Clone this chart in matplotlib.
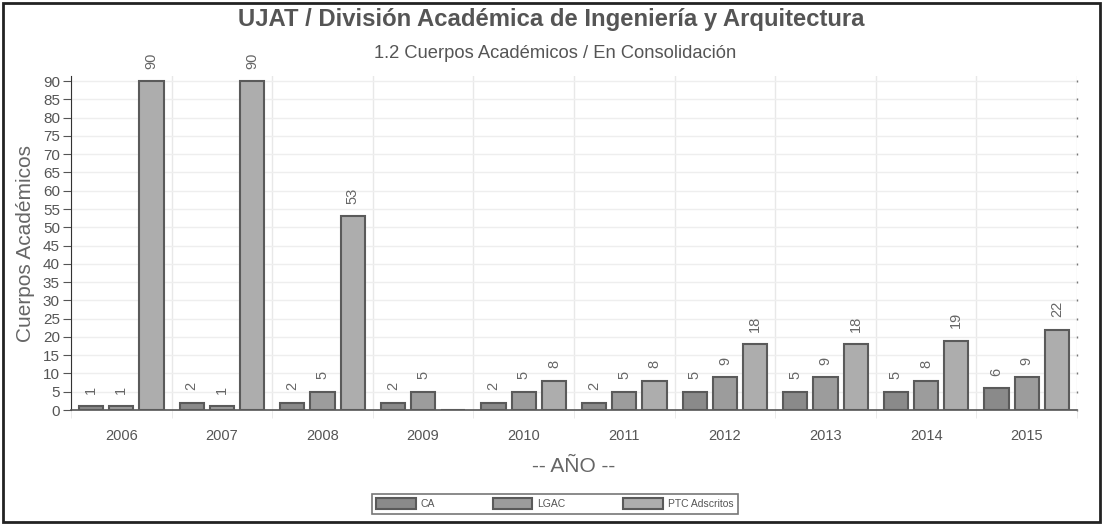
import matplotlib.pyplot as plt
import numpy as np
from matplotlib.patches import Rectangle

plt.rcParams['font.family'] = ['Liberation Sans', 'DejaVu Sans']

years = ["2006", "2007", "2008", "2009", "2010", "2011", "2012", "2013", "2014", "2015"]
ca = [1, 2, 2, 2, 2, 2, 5, 5, 5, 6]
lgac = [1, 1, 5, 5, 5, 5, 9, 9, 8, 9]
ptc = [90, 90, 53, 0, 8, 8, 18, 18, 19, 22]

series = [("CA", ca, "#8a8a8a"), ("LGAC", lgac, "#9c9c9c"), ("PTC Adscritos", ptc, "#adadad")]

fig = plt.figure(figsize=(11.03, 5.26), dpi=100)
ax = fig.add_axes([0.0644, 0.2205, 0.912, 0.635])

x = np.arange(len(years))
w = 0.24
offs = [-0.3, 0.0, 0.3]
handles = []
for (name, vals, col), off in zip(series, offs):
    bars = ax.bar(x + off, vals, w, color=col, edgecolor="#5a5a5a", linewidth=1.5,
                  label=name, zorder=3)
    handles.append(bars)
    for xi, v in zip(x, vals):
        if v == 0:
            continue
        ax.annotate(str(v), (xi + off, v), xytext=(0, 9), textcoords="offset points",
                    rotation=90, ha="center", va="bottom", fontsize=10.5, color="#666666",
                    annotation_clip=False)

ax.set_xlim(-0.5, len(years) - 0.5)
ax.set_ylim(0, 91.4)
ax.set_yticks(range(0, 91, 5))
ax.set_xticks(x)
ax.set_xticklabels(years)
ax.set_xticks(np.arange(-0.5, len(years)), minor=True)
ax.tick_params(axis="x", which="major", length=0, labelsize=10.5, labelcolor="#555555", pad=14)
ax.tick_params(axis="x", which="minor", length=6, color="#e6e6e6")
ax.tick_params(axis="y", labelsize=11, labelcolor="#555555", length=6, color="#555555", pad=2)

ax.grid(axis="y", color="#eeeeee", linewidth=1, zorder=0)
ax.grid(axis="x", which="minor", color="#e8e8e8", linewidth=1, zorder=0)
for s in ["top", "right"]:
    ax.spines[s].set_visible(False)
ax.spines["left"].set_color("#333333")
ax.spines["bottom"].set_color("#555555")
ax.spines["bottom"].set_linewidth(1.2)

# small tick marks on the right side
for yv in range(0, 91, 5):
    ax.plot([len(years) - 0.5], [yv], marker="|", markersize=2, color="#777777",
            clip_on=False, zorder=4)

ax.set_ylabel("Cuerpos Académicos", fontsize=15, color="#666666", labelpad=6)
ax.set_xlabel("-- AÑO --", fontsize=15, color="#666666", labelpad=10)

fig.text(0.5, 0.963, "UJAT / División Académica de Ingeniería y Arquitectura",
         ha="center", va="center", fontsize=17.2, fontweight="bold", color="#555555")
fig.text(0.503, 0.898, "1.2 Cuerpos Académicos / En Consolidación",
         ha="center", va="center", fontsize=13.2, color="#555555")

leg = fig.legend(handles=handles, loc="center", bbox_to_anchor=(0.503, 0.042), ncol=3,
                 fontsize=7.5, frameon=True, fancybox=False, edgecolor="#555555",
                 handlelength=3.8, handleheight=1.2, handletextpad=0.5,
                 columnspacing=5.5, borderpad=0.4)
leg.get_frame().set_linewidth(1.2)
for t in leg.get_texts():
    t.set_color("#555555")

fig.patches.append(Rectangle((0.003, 0.008), 0.994, 0.986, transform=fig.transFigure,
                             fill=False, edgecolor="#222222", linewidth=2))

fig.savefig("out.png", dpi=100)
